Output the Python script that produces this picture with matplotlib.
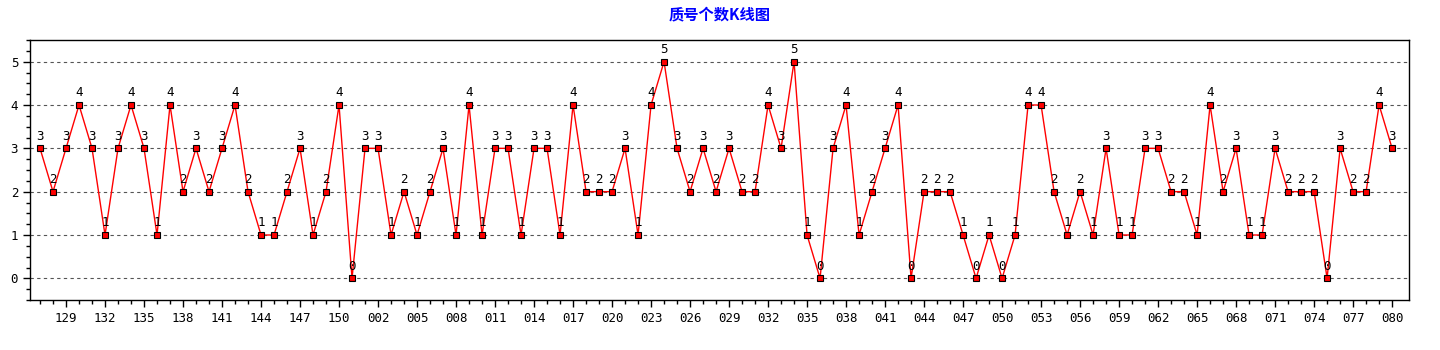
import matplotlib.pyplot as plt
from matplotlib.ticker import MultipleLocator

# Issue numbers and prime counts per draw
issues_prev = [str(i) for i in range(127, 152)]
issues_curr = ["%03d" % i for i in range(1, 81)]
issues = issues_prev + issues_curr

counts = [
    3, 2, 3, 4, 3, 1, 3, 4, 3, 1, 4, 2, 3, 2, 3, 4, 2, 1, 1, 2, 3, 1, 2, 4, 0,
    3, 3, 1, 2, 1, 2, 3, 1, 4, 1, 3, 3, 1, 3, 3, 1, 4, 2, 2, 2, 3, 1, 4, 5, 3,
    2, 3, 2, 3, 2, 2, 4, 3, 5, 1, 0, 3, 4, 1, 2, 3, 4, 0, 2, 2, 2, 1, 0, 1, 0,
    1, 4, 4, 2, 1, 2, 1, 3, 1, 1, 3, 3, 2, 2, 1, 4, 2, 3, 1, 1, 3, 2, 2, 2, 0,
    3, 2, 2, 4, 3,
]

title = "质号个数K线图"

plt.rcParams["font.family"] = ["DejaVu Sans Mono", "Noto Sans CJK SC"]

fig = plt.figure(figsize=(14.4, 3.5), dpi=100)
ax = fig.add_axes([30 / 1440, 50 / 350, 1379 / 1440, 260 / 350])

x = list(range(len(counts)))
ax.plot(x, counts, color="red", linewidth=1, marker="s", markersize=5,
        markerfacecolor="red", markeredgecolor="black", markeredgewidth=0.8,
        zorder=3)

for xi, v in zip(x, counts):
    ax.annotate(str(v), (xi, v), xytext=(0, 4), textcoords="offset points",
                ha="center", va="bottom", fontsize=9, color="black", zorder=4)

ax.set_xlim(-0.77, len(counts) + 0.3)
ax.set_ylim(-0.5, 5.5)

ax.yaxis.set_major_locator(MultipleLocator(1))
ax.yaxis.set_minor_locator(MultipleLocator(0.25))
ax.grid(axis="y", which="major", linestyle=(0, (3, 3)), color="#555555", linewidth=0.8)

tick_pos = x[2::3]
ax.set_xticks(tick_pos)
ax.set_xticklabels([issues[i] for i in tick_pos])
ax.set_xticks(x, minor=True)

ax.tick_params(axis="both", which="major", length=5, width=1, labelsize=9, colors="black")
ax.tick_params(axis="both", which="minor", length=3, width=1)

for s in ax.spines.values():
    s.set_linewidth(1)

fig.text(0.5, 1 - 14 / 350, title, ha="center", va="center", color="blue",
         fontsize=11, fontweight="bold", family=["Noto Sans CJK SC", "DejaVu Sans"])

fig.savefig("out.png", dpi=100)
